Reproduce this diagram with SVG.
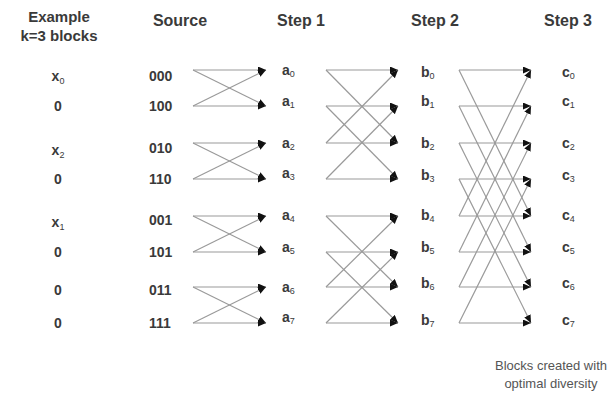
<svg xmlns="http://www.w3.org/2000/svg" width="612" height="420" viewBox="0 0 612 420">
<defs>
<marker id="ah" markerUnits="userSpaceOnUse" markerWidth="9" markerHeight="8" refX="8" refY="3.5" orient="auto">
<path d="M0,0 L8,3.5 L0,7 z" fill="#111"/>
</marker>
<style>
text{font-family:"Liberation Sans",Arial,sans-serif;fill:#3a3a3a;font-weight:bold}
.hd{font-size:16px;text-anchor:middle}
.ex{font-size:15px;text-anchor:middle}
.lb{font-size:14px}
.lc{font-size:14px;text-anchor:middle}
.sub{font-size:9px;font-weight:normal}
.note{font-size:13px;font-weight:normal;fill:#555;text-anchor:middle}
#connectors path{stroke:#9a9a9a;stroke-width:1.2;fill:none;marker-end:url(#ah)}
</style>
</defs>
<rect width="612" height="420" fill="#fff"/>
<g id="headers">
<text class="ex" x="59" y="22">Example</text>
<text class="ex" x="59" y="41">k=3 blocks</text>
<text class="hd" x="180" y="26">Source</text>
<text class="hd" x="301" y="26">Step 1</text>
<text class="hd" x="435" y="26">Step 2</text>
<text class="hd" x="568" y="26">Step 3</text>
</g>
<g id="example">
<text class="lc" x="58" y="81">x<tspan class="sub" dy="3">0</tspan></text>
<text class="lc" x="58" y="111">0</text>
<text class="lc" x="58" y="155">x<tspan class="sub" dy="3">2</tspan></text>
<text class="lc" x="58" y="184">0</text>
<text class="lc" x="58" y="227">x<tspan class="sub" dy="3">1</tspan></text>
<text class="lc" x="58" y="257">0</text>
<text class="lc" x="58" y="295">0</text>
<text class="lc" x="58" y="328">0</text>
</g>
<g id="source">
<text class="lb" x="149" y="81">000</text>
<text class="lb" x="149" y="111">100</text>
<text class="lb" x="149" y="153">010</text>
<text class="lb" x="149" y="184">110</text>
<text class="lb" x="149" y="225">001</text>
<text class="lb" x="149" y="257">101</text>
<text class="lb" x="149" y="295">011</text>
<text class="lb" x="149" y="328">111</text>
</g>
<g id="step1">
<text class="lb" x="282" y="75">a<tspan class="sub" dy="2">0</tspan></text>
<text class="lb" x="282" y="106">a<tspan class="sub" dy="2">1</tspan></text>
<text class="lb" x="282" y="148">a<tspan class="sub" dy="2">2</tspan></text>
<text class="lb" x="282" y="178">a<tspan class="sub" dy="2">3</tspan></text>
<text class="lb" x="282" y="220">a<tspan class="sub" dy="2">4</tspan></text>
<text class="lb" x="282" y="252">a<tspan class="sub" dy="2">5</tspan></text>
<text class="lb" x="282" y="292">a<tspan class="sub" dy="2">6</tspan></text>
<text class="lb" x="282" y="322">a<tspan class="sub" dy="2">7</tspan></text>
</g>
<g id="step2">
<text class="lb" x="421" y="77">b<tspan class="sub" dy="2">0</tspan></text>
<text class="lb" x="421" y="106">b<tspan class="sub" dy="2">1</tspan></text>
<text class="lb" x="421" y="148">b<tspan class="sub" dy="2">2</tspan></text>
<text class="lb" x="421" y="180">b<tspan class="sub" dy="2">3</tspan></text>
<text class="lb" x="421" y="220">b<tspan class="sub" dy="2">4</tspan></text>
<text class="lb" x="421" y="252">b<tspan class="sub" dy="2">5</tspan></text>
<text class="lb" x="421" y="288">b<tspan class="sub" dy="2">6</tspan></text>
<text class="lb" x="421" y="325">b<tspan class="sub" dy="2">7</tspan></text>
</g>
<g id="step3">
<text class="lb" x="562" y="77">c<tspan class="sub" dy="2">0</tspan></text>
<text class="lb" x="562" y="106">c<tspan class="sub" dy="2">1</tspan></text>
<text class="lb" x="562" y="148">c<tspan class="sub" dy="2">2</tspan></text>
<text class="lb" x="562" y="180">c<tspan class="sub" dy="2">3</tspan></text>
<text class="lb" x="562" y="220">c<tspan class="sub" dy="2">4</tspan></text>
<text class="lb" x="562" y="252">c<tspan class="sub" dy="2">5</tspan></text>
<text class="lb" x="562" y="288">c<tspan class="sub" dy="2">6</tspan></text>
<text class="lb" x="562" y="325">c<tspan class="sub" dy="2">7</tspan></text>
</g>
<g id="note">
<text class="note" x="551" y="370">Blocks created with</text>
<text class="note" x="551" y="388">optimal diversity</text>
</g>
<g id="connectors">
<path d="M193,70 L266,70"/><path d="M193,70 L266,106"/>
<path d="M193,106 L266,106"/><path d="M193,106 L266,70"/>
<path d="M193,143 L266,143"/><path d="M193,143 L266,179"/>
<path d="M193,179 L266,179"/><path d="M193,179 L266,143"/>
<path d="M193,216 L266,216"/><path d="M193,216 L266,252"/>
<path d="M193,252 L266,252"/><path d="M193,252 L266,216"/>
<path d="M193,287 L266,287"/><path d="M193,287 L266,323"/>
<path d="M193,323 L266,323"/><path d="M193,323 L266,287"/>
<path d="M326,70 L398,70"/><path d="M326,70 L398,143"/>
<path d="M326,106 L398,106"/><path d="M326,106 L398,179"/>
<path d="M326,143 L398,143"/><path d="M326,143 L398,70"/>
<path d="M326,179 L398,179"/><path d="M326,179 L398,106"/>
<path d="M326,216 L398,216"/><path d="M326,216 L398,287"/>
<path d="M326,252 L398,252"/><path d="M326,252 L398,323"/>
<path d="M326,287 L398,287"/><path d="M326,287 L398,216"/>
<path d="M326,323 L398,323"/><path d="M326,323 L398,252"/>
<path d="M459,70 L531,70"/><path d="M459,70 L531,216"/>
<path d="M459,106 L531,106"/><path d="M459,106 L531,252"/>
<path d="M459,143 L531,143"/><path d="M459,143 L531,287"/>
<path d="M459,179 L531,179"/><path d="M459,179 L531,323"/>
<path d="M459,216 L531,216"/><path d="M459,216 L531,70"/>
<path d="M459,252 L531,252"/><path d="M459,252 L531,106"/>
<path d="M459,287 L531,287"/><path d="M459,287 L531,143"/>
<path d="M459,323 L531,323"/><path d="M459,323 L531,179"/>
</g>
</svg>
